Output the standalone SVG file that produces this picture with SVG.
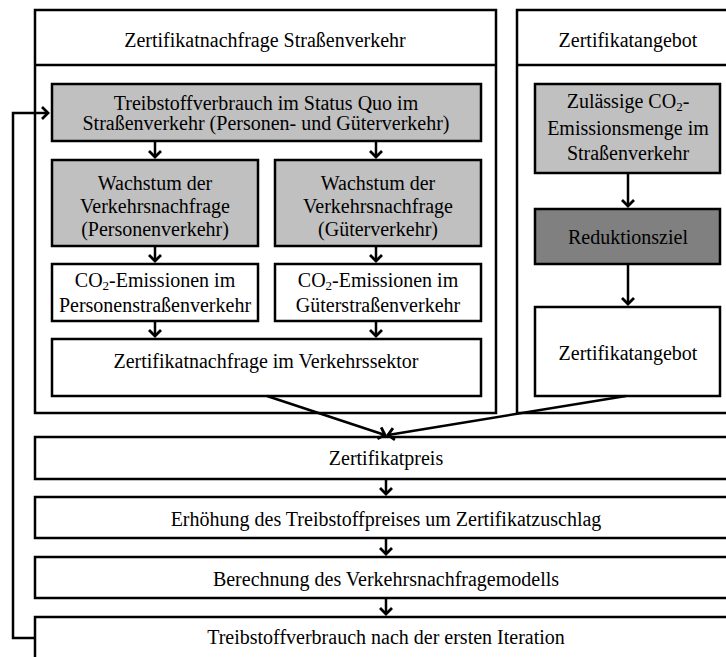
<svg xmlns="http://www.w3.org/2000/svg" width="726" height="657" viewBox="0 0 726 657">
<defs>
<style>
.b{fill:#fff;stroke:#000;stroke-width:2.5}
.g{fill:#c0c0c0;stroke:#000;stroke-width:2.5}
.d{fill:#808080;stroke:#000;stroke-width:2.5}
.ln{fill:none;stroke:#000;stroke-width:2.5}
text{font-family:"Liberation Serif","Times New Roman",serif;font-size:20px;fill:#000;text-anchor:middle}
.s{font-size:13px}
</style>
<marker id="ah" markerUnits="userSpaceOnUse" viewBox="-10 -10 14 20" refX="0" refY="0" markerWidth="14" markerHeight="20" orient="auto" overflow="visible">
<path d="M-6,-6 L0,0 L-6,6" fill="none" stroke="#000" stroke-width="2.8"/>
</marker>
</defs>
<rect width="726" height="657" fill="#fff"/>

<g id="demand-frame">
<rect class="b" x="35" y="10" width="461" height="403"/>
<line class="ln" x1="35" y1="65" x2="496" y2="65"/>
<text x="265" y="47">Zertifikatnachfrage Straßenverkehr</text>
</g>
<g id="supply-frame">
<rect class="b" x="517" y="10" width="230" height="403"/>
<line class="ln" x1="517" y1="65" x2="747" y2="65"/>
<text x="628" y="47">Zertifikatangebot</text>
</g>

<g id="fuel-status-quo">
<rect class="g" x="52" y="84" width="429" height="57"/>
<text x="266" y="110">Treibstoffverbrauch im Status Quo im</text>
<text x="266" y="130">Straßenverkehr (Personen- und Güterverkehr)</text>
</g>
<g id="growth-passenger">
<rect class="g" x="52" y="160" width="206" height="86"/>
<text x="155" y="190">Wachstum der</text>
<text x="155" y="213">Verkehrsnachfrage</text>
<text x="155" y="236">(Personenverkehr)</text>
</g>
<g id="growth-freight">
<rect class="g" x="275" y="160" width="206" height="86"/>
<text x="378" y="190">Wachstum der</text>
<text x="378" y="213">Verkehrsnachfrage</text>
<text x="378" y="236">(Güterverkehr)</text>
</g>
<g id="co2-passenger">
<rect class="b" x="52" y="264" width="206" height="57"/>
<text x="155" y="287">CO<tspan class="s" dy="3">2</tspan><tspan dy="-3">-Emissionen im</tspan></text>
<text x="155" y="312">Personenstraßenverkehr</text>
</g>
<g id="co2-freight">
<rect class="b" x="275" y="264" width="206" height="57"/>
<text x="378" y="287">CO<tspan class="s" dy="3">2</tspan><tspan dy="-3">-Emissionen im</tspan></text>
<text x="378" y="312">Güterstraßenverkehr</text>
</g>
<g id="demand-sector">
<rect class="b" x="52" y="339" width="429" height="57"/>
<text x="266" y="368">Zertifikatnachfrage im Verkehrssektor</text>
</g>

<g id="allowed-emissions">
<rect class="g" x="535" y="84" width="185" height="89"/>
<text x="628" y="108">Zulässige CO<tspan class="s" dy="3">2</tspan><tspan dy="-3">-</tspan></text>
<text x="628" y="135">Emissionsmenge im</text>
<text x="628" y="160">Straßenverkehr</text>
</g>
<g id="reduction-target">
<rect class="d" x="535" y="209" width="185" height="55"/>
<text x="628" y="244">Reduktionsziel</text>
</g>
<g id="supply">
<rect class="b" x="535" y="307" width="185" height="89"/>
<text x="628" y="360">Zertifikatangebot</text>
</g>

<g id="price">
<rect class="b" x="35" y="437" width="712" height="42"/>
<text x="386" y="465">Zertifikatpreis</text>
</g>
<g id="fuel-price-increase">
<rect class="b" x="35" y="497" width="712" height="41"/>
<text x="386" y="526">Erhöhung des Treibstoffpreises um Zertifikatzuschlag</text>
</g>
<g id="demand-model">
<rect class="b" x="35" y="557" width="712" height="41"/>
<text x="386" y="586">Berechnung des Verkehrsnachfragemodells</text>
</g>
<g id="fuel-first-iteration">
<rect class="b" x="35" y="617" width="712" height="60"/>
<text x="386" y="644">Treibstoffverbrauch nach der ersten Iteration</text>
</g>

<g id="connectors">
<line class="ln" x1="155" y1="141" x2="155" y2="157" marker-end="url(#ah)"/>
<line class="ln" x1="376" y1="141" x2="376" y2="157" marker-end="url(#ah)"/>
<line class="ln" x1="155" y1="246" x2="155" y2="261" marker-end="url(#ah)"/>
<line class="ln" x1="376" y1="246" x2="376" y2="261" marker-end="url(#ah)"/>
<line class="ln" x1="155" y1="321" x2="155" y2="336" marker-end="url(#ah)"/>
<line class="ln" x1="376" y1="321" x2="376" y2="336" marker-end="url(#ah)"/>
<line class="ln" x1="628" y1="173" x2="628" y2="206" marker-end="url(#ah)"/>
<line class="ln" x1="628" y1="264" x2="628" y2="304" marker-end="url(#ah)"/>
<line class="ln" x1="267" y1="396" x2="385" y2="435" marker-end="url(#ah)"/>
<line class="ln" x1="626" y1="396" x2="388" y2="435" marker-end="url(#ah)"/>
<line class="ln" x1="386" y1="479" x2="386" y2="494" marker-end="url(#ah)"/>
<line class="ln" x1="386" y1="538" x2="386" y2="554" marker-end="url(#ah)"/>
<line class="ln" x1="386" y1="598" x2="386" y2="614" marker-end="url(#ah)"/>
<polyline class="ln" points="35,638 13,638 13,113 48,113" marker-end="url(#ah)"/>
</g>
</svg>
